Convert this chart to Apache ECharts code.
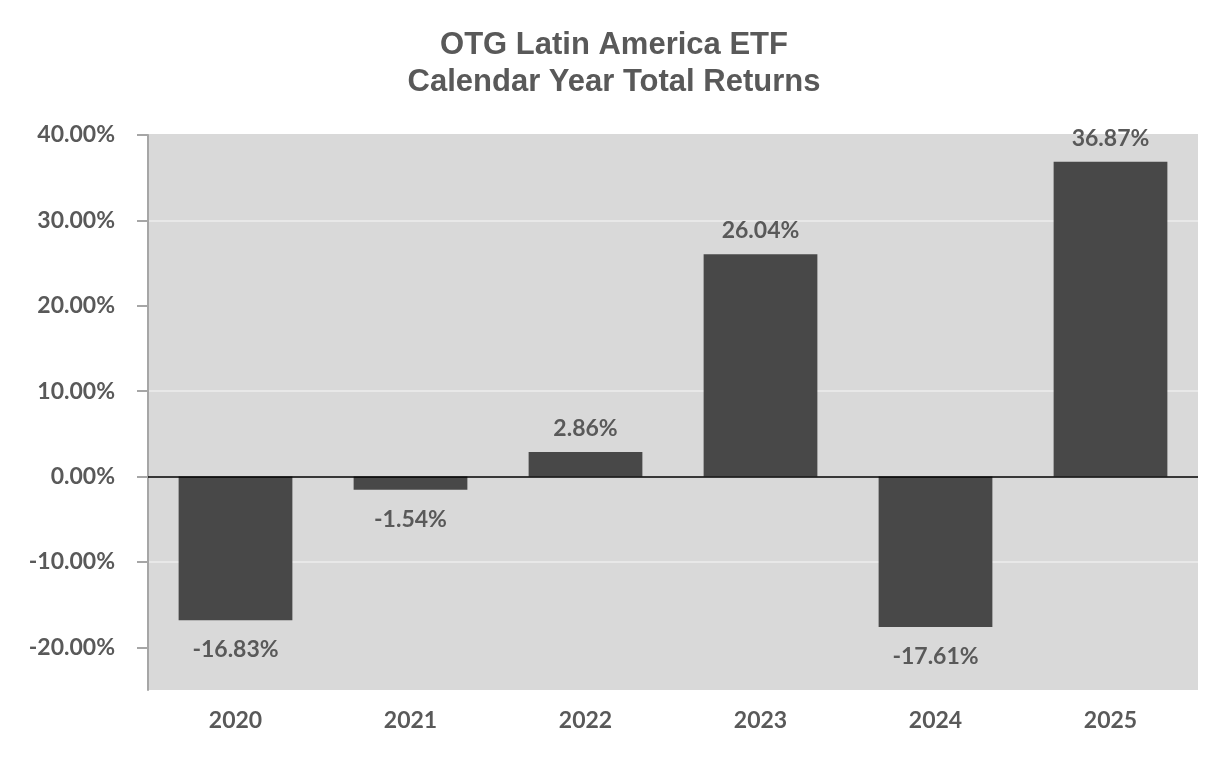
<!DOCTYPE html>
<html><head><meta charset="utf-8">
<script src="https://cdn.jsdelivr.net/npm/echarts@6/dist/echarts.min.js"></script>
<style>html,body{margin:0;padding:0;background:#fff}#c{width:1228px;height:768px}</style>
</head><body><div id="c"></div>
<script>
const titleLines = ['OTG Latin America ETF', 'Calendar Year Total Returns'];
const categories = ['2020', '2021', '2022', '2023', '2024', '2025'];
const returns = [-16.83, -1.54, 2.86, 26.04, -17.61, 36.87];
const yTicks = [-20, -10, 0, 10, 20, 30, 40];

const chart = echarts.init(document.getElementById('c'));
const labelFont = {fontFamily: 'Lato', fontWeight: 'bold', fontSize: 23, color: '#595959'};
chart.setOption({
  animation: false,
  backgroundColor: '#ffffff',
  title: {
    text: titleLines.join('\n'), left: 'center', top: 22,
    textStyle: {fontFamily: 'Liberation Sans', fontWeight: 'bold', fontSize: 31, color: '#595959', lineHeight: 37}
  },
  grid: {left: 148, right: 30, top: 135, bottom: 78, show: true, backgroundColor: '#d9d9d9', borderWidth: 0},
  xAxis: {
    type: 'category', data: categories,
    axisLine: {show: false, onZero: false}, axisTick: {show: false},
    axisLabel: Object.assign({margin: 19}, labelFont)
  },
  yAxis: {
    type: 'value', min: -25, max: 40, interval: 5,
    axisLine: {show: true, lineStyle: {color: '#a6a6a6', width: 2}},
    axisTick: {show: true, length: 11, lineStyle: {color: '#a6a6a6', width: 2}, customValues: yTicks},
    axisLabel: Object.assign({margin: 33, customValues: yTicks,
      formatter: v => (v % 10 === 0 ? v.toFixed(2) + '%' : '')}, labelFont),
    splitLine: {show: true, lineStyle: {color: ['#d9d9d9', '#e8e8e8'], width: 2}}
  },
  series: [{
    type: 'bar', barWidth: '65%',
    itemStyle: {color: '#484848'},
    data: returns.map(v => ({
      value: v,
      label: v < 0 ? {position: 'bottom', distance: 18} : {position: 'top', distance: 12}
    })),
    label: Object.assign({show: true, formatter: p => p.value.toFixed(2) + '%'}, labelFont),
    markLine: {
      silent: true, symbol: 'none', label: {show: false},
      lineStyle: {color: '#000000', width: 1.5, type: 'solid'},
      data: [{yAxis: 0}]
    }
  }]
});
</script></body></html>
